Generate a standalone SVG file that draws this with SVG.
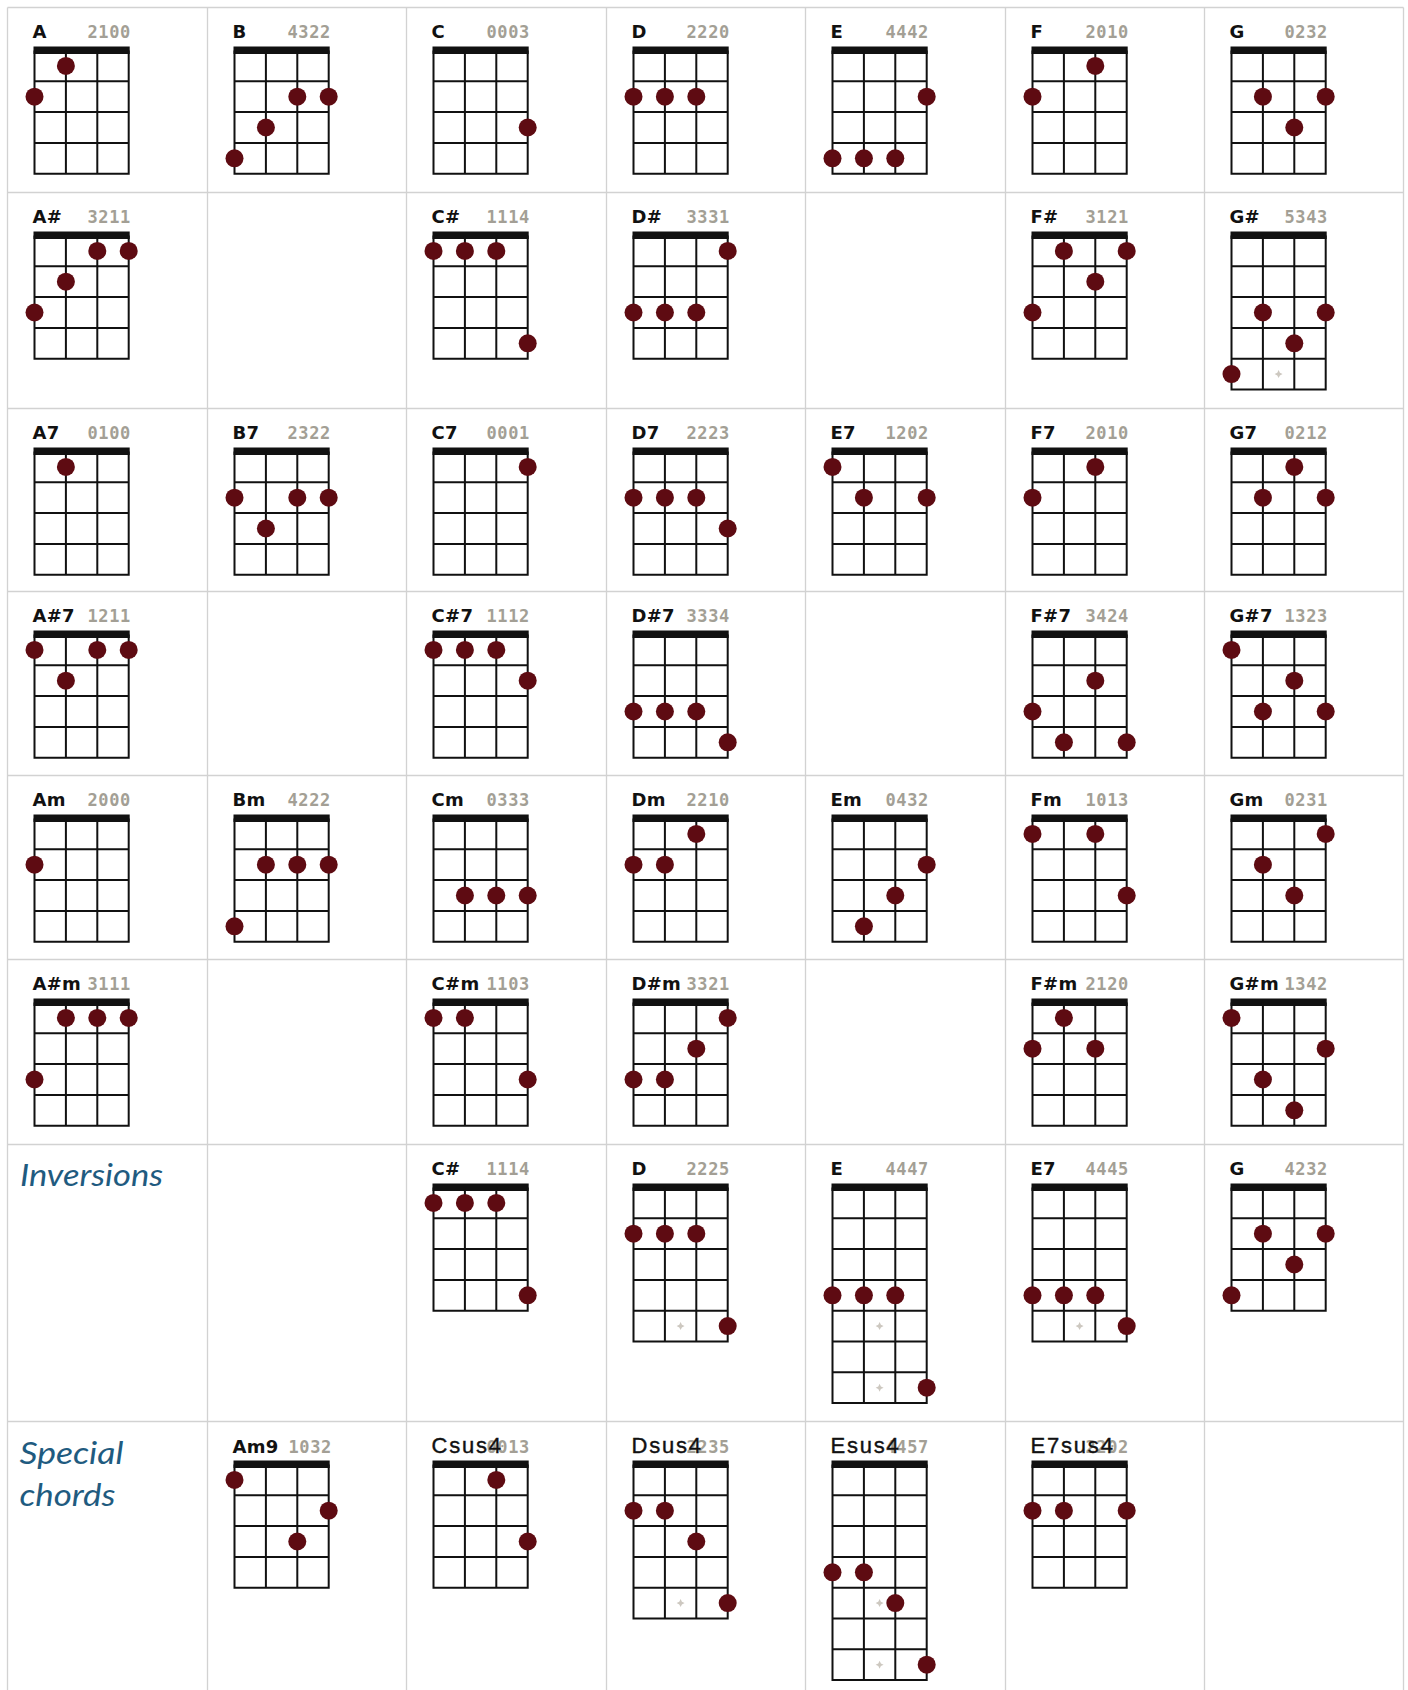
<svg xmlns="http://www.w3.org/2000/svg" xmlns:xlink="http://www.w3.org/1999/xlink" width="1408" height="1690" viewBox="0 0 1408 1690">
<style>
.tl{stroke:#d2d2d2;stroke-width:1.3;fill:none}
.name{font-family:"DejaVu Sans","Liberation Sans",sans-serif;font-weight:bold;font-size:18px;fill:#111;letter-spacing:0.3px}
.num{font-family:"DejaVu Sans Mono","Liberation Mono",monospace;font-weight:bold;font-size:17px;fill:#a39f95;letter-spacing:0.6px}
.sname{font-family:"Liberation Sans",Arial,sans-serif;font-size:22px;fill:#111;letter-spacing:1.8px;stroke:#111;stroke-width:0.4}
.sec{font-family:Lato,"Open Sans",sans-serif;font-style:italic;font-size:30px;fill:#1f5b80}
.s{stroke:#111;stroke-width:2;fill:none}
.nut{fill:#111}
.d{fill:#5e0b12}
.mk{fill:#cdc8c0}
</style>
<defs>
<path id="mkp" class="mk" d="M0,-4 L1.3,-1.3 L4,0 L1.3,1.3 L0,4 L-1.3,1.3 L-4,0 L-1.3,-1.3Z"/>
<g id="g4">
<rect class="nut" x="26" y="39" width="96.2" height="7.5"/>
<path class="s" d="M27 43V166.2M58.4 43V166.2M89.8 43V166.2M121.2 43V166.2M26 73.8H122.2M26 104.6H122.2M26 135.4H122.2M26 166.2H122.2"/>
</g>
<g id="g5">
<rect class="nut" x="26" y="39" width="96.2" height="7.5"/>
<path class="s" d="M27 43V197M58.4 43V197M89.8 43V197M121.2 43V197M26 73.8H122.2M26 104.6H122.2M26 135.4H122.2M26 166.2H122.2M26 197H122.2"/>
<use href="#mkp" x="74.1" y="181.6"/>
</g>
<g id="g7">
<rect class="nut" x="26" y="39" width="96.2" height="7.5"/>
<path class="s" d="M27 43V258.6M58.4 43V258.6M89.8 43V258.6M121.2 43V258.6M26 73.8H122.2M26 104.6H122.2M26 135.4H122.2M26 166.2H122.2M26 197H122.2M26 227.8H122.2M26 258.6H122.2"/>
<use href="#mkp" x="74.1" y="181.6"/>
<use href="#mkp" x="74.1" y="243.2"/>
</g>
</defs>
<rect width="1408" height="1690" fill="#fff"/>
<g id="table-lines">
<path class="tl" d="M7.5 7.5H1403.5M7.5 192.5H1403.5M7.5 408.5H1403.5M7.5 591.5H1403.5M7.5 775.5H1403.5M7.5 959.5H1403.5M7.5 1144.5H1403.5M7.5 1421.5H1403.5"/>
<path class="tl" d="M7.5 7.5V1690M207.5 7.5V1690M406.5 7.5V1690M606.5 7.5V1690M805.5 7.5V1690M1005.5 7.5V1690M1204.5 7.5V1690M1403.5 7.5V1690"/>
</g>
<g id="connectors"/>

<!-- Row 1 -->
<g id="chord-A" transform="translate(7.5,7.5)"><text class="name" x="25" y="30">A</text><text class="num" x="80" y="30">2100</text><use href="#g4"/><circle class="d" cx="27" cy="89.2" r="9"/><circle class="d" cx="58.4" cy="58.4" r="9"/></g>
<g id="chord-B" transform="translate(207.5,7.5)"><text class="name" x="25" y="30">B</text><text class="num" x="80" y="30">4322</text><use href="#g4"/><circle class="d" cx="27" cy="150.8" r="9"/><circle class="d" cx="58.4" cy="120" r="9"/><circle class="d" cx="89.8" cy="89.2" r="9"/><circle class="d" cx="121.2" cy="89.2" r="9"/></g>
<g id="chord-C" transform="translate(406.5,7.5)"><text class="name" x="25" y="30">C</text><text class="num" x="80" y="30">0003</text><use href="#g4"/><circle class="d" cx="121.2" cy="120" r="9"/></g>
<g id="chord-D" transform="translate(606.5,7.5)"><text class="name" x="25" y="30">D</text><text class="num" x="80" y="30">2220</text><use href="#g4"/><circle class="d" cx="27" cy="89.2" r="9"/><circle class="d" cx="58.4" cy="89.2" r="9"/><circle class="d" cx="89.8" cy="89.2" r="9"/></g>
<g id="chord-E" transform="translate(805.5,7.5)"><text class="name" x="25" y="30">E</text><text class="num" x="80" y="30">4442</text><use href="#g4"/><circle class="d" cx="27" cy="150.8" r="9"/><circle class="d" cx="58.4" cy="150.8" r="9"/><circle class="d" cx="89.8" cy="150.8" r="9"/><circle class="d" cx="121.2" cy="89.2" r="9"/></g>
<g id="chord-F" transform="translate(1005.5,7.5)"><text class="name" x="25" y="30">F</text><text class="num" x="80" y="30">2010</text><use href="#g4"/><circle class="d" cx="27" cy="89.2" r="9"/><circle class="d" cx="89.8" cy="58.4" r="9"/></g>
<g id="chord-G" transform="translate(1204.5,7.5)"><text class="name" x="25" y="30">G</text><text class="num" x="80" y="30">0232</text><use href="#g4"/><circle class="d" cx="58.4" cy="89.2" r="9"/><circle class="d" cx="89.8" cy="120" r="9"/><circle class="d" cx="121.2" cy="89.2" r="9"/></g>

<!-- Row 2 -->
<g id="chord-Asharp" transform="translate(7.5,192.5)"><text class="name" x="25" y="30">A#</text><text class="num" x="80" y="30">3211</text><use href="#g4"/><circle class="d" cx="27" cy="120" r="9"/><circle class="d" cx="58.4" cy="89.2" r="9"/><circle class="d" cx="89.8" cy="58.4" r="9"/><circle class="d" cx="121.2" cy="58.4" r="9"/></g>
<g id="chord-Csharp" transform="translate(406.5,192.5)"><text class="name" x="25" y="30">C#</text><text class="num" x="80" y="30">1114</text><use href="#g4"/><circle class="d" cx="27" cy="58.4" r="9"/><circle class="d" cx="58.4" cy="58.4" r="9"/><circle class="d" cx="89.8" cy="58.4" r="9"/><circle class="d" cx="121.2" cy="150.8" r="9"/></g>
<g id="chord-Dsharp" transform="translate(606.5,192.5)"><text class="name" x="25" y="30">D#</text><text class="num" x="80" y="30">3331</text><use href="#g4"/><circle class="d" cx="27" cy="120" r="9"/><circle class="d" cx="58.4" cy="120" r="9"/><circle class="d" cx="89.8" cy="120" r="9"/><circle class="d" cx="121.2" cy="58.4" r="9"/></g>
<g id="chord-Fsharp" transform="translate(1005.5,192.5)"><text class="name" x="25" y="30">F#</text><text class="num" x="80" y="30">3121</text><use href="#g4"/><circle class="d" cx="27" cy="120" r="9"/><circle class="d" cx="58.4" cy="58.4" r="9"/><circle class="d" cx="89.8" cy="89.2" r="9"/><circle class="d" cx="121.2" cy="58.4" r="9"/></g>
<g id="chord-Gsharp" transform="translate(1204.5,192.5)"><text class="name" x="25" y="30">G#</text><text class="num" x="80" y="30">5343</text><use href="#g5"/><circle class="d" cx="27" cy="181.6" r="9"/><circle class="d" cx="58.4" cy="120" r="9"/><circle class="d" cx="89.8" cy="150.8" r="9"/><circle class="d" cx="121.2" cy="120" r="9"/></g>

<!-- Row 3 -->
<g id="chord-A7" transform="translate(7.5,408.5)"><text class="name" x="25" y="30">A7</text><text class="num" x="80" y="30">0100</text><use href="#g4"/><circle class="d" cx="58.4" cy="58.4" r="9"/></g>
<g id="chord-B7" transform="translate(207.5,408.5)"><text class="name" x="25" y="30">B7</text><text class="num" x="80" y="30">2322</text><use href="#g4"/><circle class="d" cx="27" cy="89.2" r="9"/><circle class="d" cx="58.4" cy="120" r="9"/><circle class="d" cx="89.8" cy="89.2" r="9"/><circle class="d" cx="121.2" cy="89.2" r="9"/></g>
<g id="chord-C7" transform="translate(406.5,408.5)"><text class="name" x="25" y="30">C7</text><text class="num" x="80" y="30">0001</text><use href="#g4"/><circle class="d" cx="121.2" cy="58.4" r="9"/></g>
<g id="chord-D7" transform="translate(606.5,408.5)"><text class="name" x="25" y="30">D7</text><text class="num" x="80" y="30">2223</text><use href="#g4"/><circle class="d" cx="27" cy="89.2" r="9"/><circle class="d" cx="58.4" cy="89.2" r="9"/><circle class="d" cx="89.8" cy="89.2" r="9"/><circle class="d" cx="121.2" cy="120" r="9"/></g>
<g id="chord-E7" transform="translate(805.5,408.5)"><text class="name" x="25" y="30">E7</text><text class="num" x="80" y="30">1202</text><use href="#g4"/><circle class="d" cx="27" cy="58.4" r="9"/><circle class="d" cx="58.4" cy="89.2" r="9"/><circle class="d" cx="121.2" cy="89.2" r="9"/></g>
<g id="chord-F7" transform="translate(1005.5,408.5)"><text class="name" x="25" y="30">F7</text><text class="num" x="80" y="30">2010</text><use href="#g4"/><circle class="d" cx="27" cy="89.2" r="9"/><circle class="d" cx="89.8" cy="58.4" r="9"/></g>
<g id="chord-G7" transform="translate(1204.5,408.5)"><text class="name" x="25" y="30">G7</text><text class="num" x="80" y="30">0212</text><use href="#g4"/><circle class="d" cx="58.4" cy="89.2" r="9"/><circle class="d" cx="89.8" cy="58.4" r="9"/><circle class="d" cx="121.2" cy="89.2" r="9"/></g>

<!-- Row 4 -->
<g id="chord-Asharp7" transform="translate(7.5,591.5)"><text class="name" x="25" y="30">A#7</text><text class="num" x="80" y="30">1211</text><use href="#g4"/><circle class="d" cx="27" cy="58.4" r="9"/><circle class="d" cx="58.4" cy="89.2" r="9"/><circle class="d" cx="89.8" cy="58.4" r="9"/><circle class="d" cx="121.2" cy="58.4" r="9"/></g>
<g id="chord-Csharp7" transform="translate(406.5,591.5)"><text class="name" x="25" y="30">C#7</text><text class="num" x="80" y="30">1112</text><use href="#g4"/><circle class="d" cx="27" cy="58.4" r="9"/><circle class="d" cx="58.4" cy="58.4" r="9"/><circle class="d" cx="89.8" cy="58.4" r="9"/><circle class="d" cx="121.2" cy="89.2" r="9"/></g>
<g id="chord-Dsharp7" transform="translate(606.5,591.5)"><text class="name" x="25" y="30">D#7</text><text class="num" x="80" y="30">3334</text><use href="#g4"/><circle class="d" cx="27" cy="120" r="9"/><circle class="d" cx="58.4" cy="120" r="9"/><circle class="d" cx="89.8" cy="120" r="9"/><circle class="d" cx="121.2" cy="150.8" r="9"/></g>
<g id="chord-Fsharp7" transform="translate(1005.5,591.5)"><text class="name" x="25" y="30">F#7</text><text class="num" x="80" y="30">3424</text><use href="#g4"/><circle class="d" cx="27" cy="120" r="9"/><circle class="d" cx="58.4" cy="150.8" r="9"/><circle class="d" cx="89.8" cy="89.2" r="9"/><circle class="d" cx="121.2" cy="150.8" r="9"/></g>
<g id="chord-Gsharp7" transform="translate(1204.5,591.5)"><text class="name" x="25" y="30">G#7</text><text class="num" x="80" y="30">1323</text><use href="#g4"/><circle class="d" cx="27" cy="58.4" r="9"/><circle class="d" cx="58.4" cy="120" r="9"/><circle class="d" cx="89.8" cy="89.2" r="9"/><circle class="d" cx="121.2" cy="120" r="9"/></g>

<!-- Row 5 -->
<g id="chord-Am" transform="translate(7.5,775.5)"><text class="name" x="25" y="30">Am</text><text class="num" x="80" y="30">2000</text><use href="#g4"/><circle class="d" cx="27" cy="89.2" r="9"/></g>
<g id="chord-Bm" transform="translate(207.5,775.5)"><text class="name" x="25" y="30">Bm</text><text class="num" x="80" y="30">4222</text><use href="#g4"/><circle class="d" cx="27" cy="150.8" r="9"/><circle class="d" cx="58.4" cy="89.2" r="9"/><circle class="d" cx="89.8" cy="89.2" r="9"/><circle class="d" cx="121.2" cy="89.2" r="9"/></g>
<g id="chord-Cm" transform="translate(406.5,775.5)"><text class="name" x="25" y="30">Cm</text><text class="num" x="80" y="30">0333</text><use href="#g4"/><circle class="d" cx="58.4" cy="120" r="9"/><circle class="d" cx="89.8" cy="120" r="9"/><circle class="d" cx="121.2" cy="120" r="9"/></g>
<g id="chord-Dm" transform="translate(606.5,775.5)"><text class="name" x="25" y="30">Dm</text><text class="num" x="80" y="30">2210</text><use href="#g4"/><circle class="d" cx="27" cy="89.2" r="9"/><circle class="d" cx="58.4" cy="89.2" r="9"/><circle class="d" cx="89.8" cy="58.4" r="9"/></g>
<g id="chord-Em" transform="translate(805.5,775.5)"><text class="name" x="25" y="30">Em</text><text class="num" x="80" y="30">0432</text><use href="#g4"/><circle class="d" cx="58.4" cy="150.8" r="9"/><circle class="d" cx="89.8" cy="120" r="9"/><circle class="d" cx="121.2" cy="89.2" r="9"/></g>
<g id="chord-Fm" transform="translate(1005.5,775.5)"><text class="name" x="25" y="30">Fm</text><text class="num" x="80" y="30">1013</text><use href="#g4"/><circle class="d" cx="27" cy="58.4" r="9"/><circle class="d" cx="89.8" cy="58.4" r="9"/><circle class="d" cx="121.2" cy="120" r="9"/></g>
<g id="chord-Gm" transform="translate(1204.5,775.5)"><text class="name" x="25" y="30">Gm</text><text class="num" x="80" y="30">0231</text><use href="#g4"/><circle class="d" cx="58.4" cy="89.2" r="9"/><circle class="d" cx="89.8" cy="120" r="9"/><circle class="d" cx="121.2" cy="58.4" r="9"/></g>

<!-- Row 6 -->
<g id="chord-Asharpm" transform="translate(7.5,959.5)"><text class="name" x="25" y="30">A#m</text><text class="num" x="80" y="30">3111</text><use href="#g4"/><circle class="d" cx="27" cy="120" r="9"/><circle class="d" cx="58.4" cy="58.4" r="9"/><circle class="d" cx="89.8" cy="58.4" r="9"/><circle class="d" cx="121.2" cy="58.4" r="9"/></g>
<g id="chord-Csharpm" transform="translate(406.5,959.5)"><text class="name" x="25" y="30">C#m</text><text class="num" x="80" y="30">1103</text><use href="#g4"/><circle class="d" cx="27" cy="58.4" r="9"/><circle class="d" cx="58.4" cy="58.4" r="9"/><circle class="d" cx="121.2" cy="120" r="9"/></g>
<g id="chord-Dsharpm" transform="translate(606.5,959.5)"><text class="name" x="25" y="30">D#m</text><text class="num" x="80" y="30">3321</text><use href="#g4"/><circle class="d" cx="27" cy="120" r="9"/><circle class="d" cx="58.4" cy="120" r="9"/><circle class="d" cx="89.8" cy="89.2" r="9"/><circle class="d" cx="121.2" cy="58.4" r="9"/></g>
<g id="chord-Fsharpm" transform="translate(1005.5,959.5)"><text class="name" x="25" y="30">F#m</text><text class="num" x="80" y="30">2120</text><use href="#g4"/><circle class="d" cx="27" cy="89.2" r="9"/><circle class="d" cx="58.4" cy="58.4" r="9"/><circle class="d" cx="89.8" cy="89.2" r="9"/></g>
<g id="chord-Gsharpm" transform="translate(1204.5,959.5)"><text class="name" x="25" y="30">G#m</text><text class="num" x="80" y="30">1342</text><use href="#g4"/><circle class="d" cx="27" cy="58.4" r="9"/><circle class="d" cx="58.4" cy="120" r="9"/><circle class="d" cx="89.8" cy="150.8" r="9"/><circle class="d" cx="121.2" cy="89.2" r="9"/></g>

<!-- Row 7: Inversions -->
<g id="label-inversions"><text class="sec" x="20" y="1186" textLength="143" lengthAdjust="spacingAndGlyphs">Inversions</text></g>
<g id="inv-Csharp" transform="translate(406.5,1144.5)"><text class="name" x="25" y="30">C#</text><text class="num" x="80" y="30">1114</text><use href="#g4"/><circle class="d" cx="27" cy="58.4" r="9"/><circle class="d" cx="58.4" cy="58.4" r="9"/><circle class="d" cx="89.8" cy="58.4" r="9"/><circle class="d" cx="121.2" cy="150.8" r="9"/></g>
<g id="inv-D" transform="translate(606.5,1144.5)"><text class="name" x="25" y="30">D</text><text class="num" x="80" y="30">2225</text><use href="#g5"/><circle class="d" cx="27" cy="89.2" r="9"/><circle class="d" cx="58.4" cy="89.2" r="9"/><circle class="d" cx="89.8" cy="89.2" r="9"/><circle class="d" cx="121.2" cy="181.6" r="9"/></g>
<g id="inv-E" transform="translate(805.5,1144.5)"><text class="name" x="25" y="30">E</text><text class="num" x="80" y="30">4447</text><use href="#g7"/><circle class="d" cx="27" cy="150.8" r="9"/><circle class="d" cx="58.4" cy="150.8" r="9"/><circle class="d" cx="89.8" cy="150.8" r="9"/><circle class="d" cx="121.2" cy="243.2" r="9"/></g>
<g id="inv-E7" transform="translate(1005.5,1144.5)"><text class="name" x="25" y="30">E7</text><text class="num" x="80" y="30">4445</text><use href="#g5"/><circle class="d" cx="27" cy="150.8" r="9"/><circle class="d" cx="58.4" cy="150.8" r="9"/><circle class="d" cx="89.8" cy="150.8" r="9"/><circle class="d" cx="121.2" cy="181.6" r="9"/></g>
<g id="inv-G" transform="translate(1204.5,1144.5)"><text class="name" x="25" y="30">G</text><text class="num" x="80" y="30">4232</text><use href="#g4"/><circle class="d" cx="27" cy="150.8" r="9"/><circle class="d" cx="58.4" cy="89.2" r="9"/><circle class="d" cx="89.8" cy="120" r="9"/><circle class="d" cx="121.2" cy="89.2" r="9"/></g>

<!-- Row 8: Special chords -->
<g id="label-special"><text class="sec" x="19.5" y="1463.5" textLength="104" lengthAdjust="spacingAndGlyphs">Special</text><text class="sec" x="19.5" y="1506" textLength="96" lengthAdjust="spacingAndGlyphs">chords</text></g>
<g id="sp-Am9" transform="translate(207.5,1421.5)"><text class="name" x="25" y="31">Am9</text><text class="num" x="81" y="31">1032</text><use href="#g4"/><circle class="d" cx="27" cy="58.4" r="9"/><circle class="d" cx="89.8" cy="120" r="9"/><circle class="d" cx="121.2" cy="89.2" r="9"/></g>
<g id="sp-Csus4" transform="translate(406.5,1421.5)"><text class="num" x="80" y="31">0013</text><text class="sname" x="25" y="31">Csus4</text><use href="#g4"/><circle class="d" cx="89.8" cy="58.4" r="9"/><circle class="d" cx="121.2" cy="120" r="9"/></g>
<g id="sp-Dsus4" transform="translate(606.5,1421.5)"><text class="num" x="80" y="31">2235</text><text class="sname" x="25" y="31">Dsus4</text><use href="#g5"/><circle class="d" cx="27" cy="89.2" r="9"/><circle class="d" cx="58.4" cy="89.2" r="9"/><circle class="d" cx="89.8" cy="120" r="9"/><circle class="d" cx="121.2" cy="181.6" r="9"/></g>
<g id="sp-Esus4" transform="translate(805.5,1421.5)"><text class="num" x="80" y="31">4457</text><text class="sname" x="25" y="31">Esus4</text><use href="#g7"/><circle class="d" cx="27" cy="150.8" r="9"/><circle class="d" cx="58.4" cy="150.8" r="9"/><circle class="d" cx="89.8" cy="181.6" r="9"/><circle class="d" cx="121.2" cy="243.2" r="9"/></g>
<g id="sp-E7sus4" transform="translate(1005.5,1421.5)"><text class="num" x="80" y="31">2202</text><text class="sname" x="25" y="31">E7sus4</text><use href="#g4"/><circle class="d" cx="27" cy="89.2" r="9"/><circle class="d" cx="58.4" cy="89.2" r="9"/><circle class="d" cx="121.2" cy="89.2" r="9"/></g>
</svg>
